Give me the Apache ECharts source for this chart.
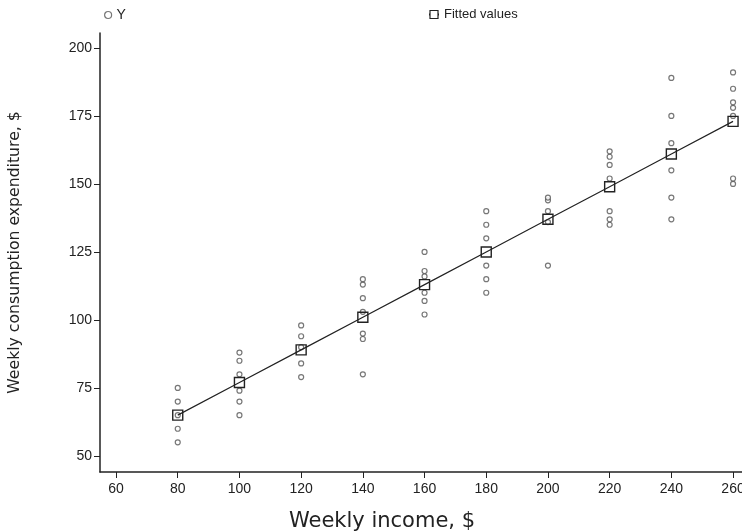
<!DOCTYPE html>
<html><head><meta charset="utf-8">
<script src="https://cdn.jsdelivr.net/npm/echarts@6/dist/echarts.min.js"></script>
<style>html,body{margin:0;padding:0;background:#fff}#c{width:742px;height:532px}</style>
</head><body><div id="c"></div>
<script>
const incomes = [80, 100, 120, 140, 160, 180, 200, 220, 240, 260];
const consumption = [
  [55, 60, 65, 70, 75],
  [65, 70, 74, 80, 85, 88],
  [79, 84, 90, 94, 98],
  [80, 93, 95, 103, 108, 113, 115],
  [102, 107, 110, 116, 118, 125],
  [110, 115, 120, 130, 135, 140],
  [120, 136, 140, 144, 145],
  [135, 137, 140, 152, 157, 160, 162],
  [137, 145, 155, 165, 175, 189],
  [150, 152, 175, 178, 180, 185, 191]
];
const fitted = [65, 77, 89, 101, 113, 125, 137, 149, 161, 173];
const xTicks = [60, 80, 100, 120, 140, 160, 180, 200, 220, 240, 260];
const yTicks = [50, 75, 100, 125, 150, 175, 200];

const scatterData = [];
incomes.forEach((x, i) => consumption[i].forEach(y => scatterData.push([x, y])));
const fitData = incomes.map((x, i) => [x, fitted[i]]);

const chart = echarts.init(document.getElementById('c'));
const font = 'Liberation Sans, Arial, sans-serif';
const wide = 'DejaVu Sans, sans-serif';
chart.setOption({
  animation: false,
  backgroundColor: '#fff',
  grid: { left: 100, top: 33, right: 0, bottom: 60, containLabel: false, outerBoundsMode: 'none' },
  legend: [
    { data: ['Y'], left: 99, top: 3, itemWidth: 7, itemHeight: 7, itemGap: 7,
      textStyle: { fontFamily: font, fontSize: 14, color: '#222' },
      itemStyle: { color: '#fff', borderColor: '#555', borderWidth: 1.2 } },
    { data: ['Fitted values'], left: 423, top: 3, itemWidth: 10, itemHeight: 10, itemGap: 4,
      textStyle: { fontFamily: font, fontSize: 13, color: '#222' },
      itemStyle: { color: '#fff', borderColor: '#222', borderWidth: 1.2 } }
  ],
  xAxis: {
    type: 'value', min: 54.8, max: 262.9,
    name: 'Weekly income, $', nameLocation: 'middle', nameGap: 39,
    nameTextStyle: { fontFamily: wide, fontSize: 21, color: '#222', padding: [0, 78, 0, 0] },
    axisLine: { show: true, lineStyle: { color: '#222', width: 1.5 } },
    axisTick: { show: true, length: 6, lineStyle: { color: '#222' }, customValues: xTicks },
    axisLabel: { fontFamily: font, fontSize: 14, color: '#222', margin: 10, customValues: xTicks },
    splitLine: { show: false }
  },
  yAxis: {
    type: 'value', min: 44.1, max: 205.5,
    name: 'Weekly consumption expenditure, $', nameLocation: 'middle', nameGap: 77,
    nameTextStyle: { fontFamily: wide, fontSize: 15.7, color: '#222' },
    axisLine: { show: true, lineStyle: { color: '#222', width: 1.5 } },
    axisTick: { show: true, length: 6, lineStyle: { color: '#222' }, customValues: yTicks },
    axisLabel: { fontFamily: font, fontSize: 14, color: '#222', margin: 8, customValues: yTicks },
    splitLine: { show: false }
  },
  series: [
    { name: 'Y', type: 'scatter', data: scatterData, symbol: 'circle', symbolSize: 5,
      itemStyle: { color: '#fff', borderColor: '#555', borderWidth: 1.2 }, z: 3 },
    { name: 'Fitted values', type: 'line', data: fitData, symbol: 'rect', symbolSize: 10,
      showAllSymbol: true,
      lineStyle: { color: '#222', width: 1.2 },
      itemStyle: { color: 'rgba(255,255,255,0)', borderColor: '#222', borderWidth: 1.4 }, z: 4 }
  ]
});
</script></body></html>
